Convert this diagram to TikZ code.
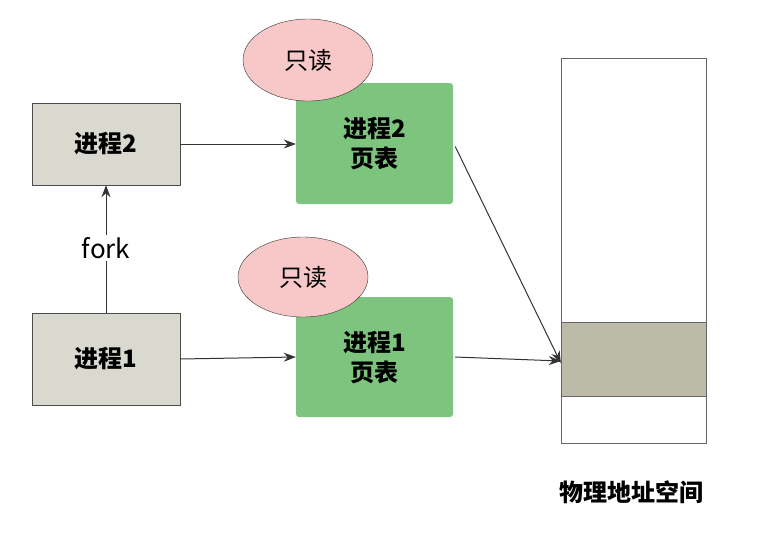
\documentclass[tikz,border=0pt]{standalone}
\usepackage{fontspec}
\setmainfont{Noto Sans CJK SC}
\usetikzlibrary{arrows.meta,shapes.geometric}
\definecolor{procgray}{HTML}{D9D9D0}
\definecolor{tabgreen}{HTML}{7DC47F}
\definecolor{readpink}{HTML}{F8C8C8}
\definecolor{bandgray}{HTML}{BCBBA9}
\tikzset{
  proc/.style={draw=black!70, fill=procgray, minimum width=148pt, minimum height=82pt, font=\bfseries\fontsize{24}{28}\selectfont},
  table/.style={fill=tabgreen, rounded corners=3pt, minimum width=157pt, minimum height=121pt, align=center, font=\bfseries\fontsize{24}{30}\selectfont},
  ro/.style={ellipse, draw=black!80, fill=readpink, minimum width=130pt, minimum height=82pt, font=\fontsize{24}{28}\selectfont},
  link/.style={draw=black!80, line width=1pt, -{Stealth[length=12pt,width=9pt]}}
}
\begin{document}
\begin{tikzpicture}[x=1pt,y=-1pt]
\useasboundingbox (0,0) rectangle (767,542);
\node[proc] (p2) at (106,144) {进程2};
\node[proc, minimum height=92pt] (p1) at (106,359) {进程1};
\node[table] (t2) at (374.5,143.5) {进程2\\页表};
\node[table, minimum height=120pt] (t1) at (374.5,357) {进程1\\页表};
\node[ro] (r2) at (308,60) {只读};
\node[ro, minimum height=80pt] (r1) at (303,277) {只读};
% physical memory
\node[draw=black!60, fill=white, minimum width=145pt, minimum height=385pt, inner sep=0pt] (mem) at (633.5,250.5) {};
\node[draw=black!60, fill=bandgray, minimum width=145pt, minimum height=74pt, inner sep=0pt] (band) at (633.5,359) {};
\node[font=\bfseries\fontsize{24}{28}\selectfont] (memlbl) at (631,492) {物理地址空间};
% fork
\node[font=\fontsize{26}{30}\selectfont, fill=white, inner sep=2pt] (fork) at (106,248) {fork};
\draw[draw=black!80, line width=1pt] (p1.north) -- (fork.south);
\draw[link] (fork.north) -- (p2.south);
\draw[link] (p2.east) -- (t2.west |- p2.east);
\draw[link] (180,359) -- (t1.west);
\draw[link] ([shift={(2,3)}]t2.east) -- ([yshift=-4pt]band.west);
\draw[link] ([xshift=2pt]t1.east) -- ([yshift=-2pt]band.west);
\end{tikzpicture}
\end{document}
